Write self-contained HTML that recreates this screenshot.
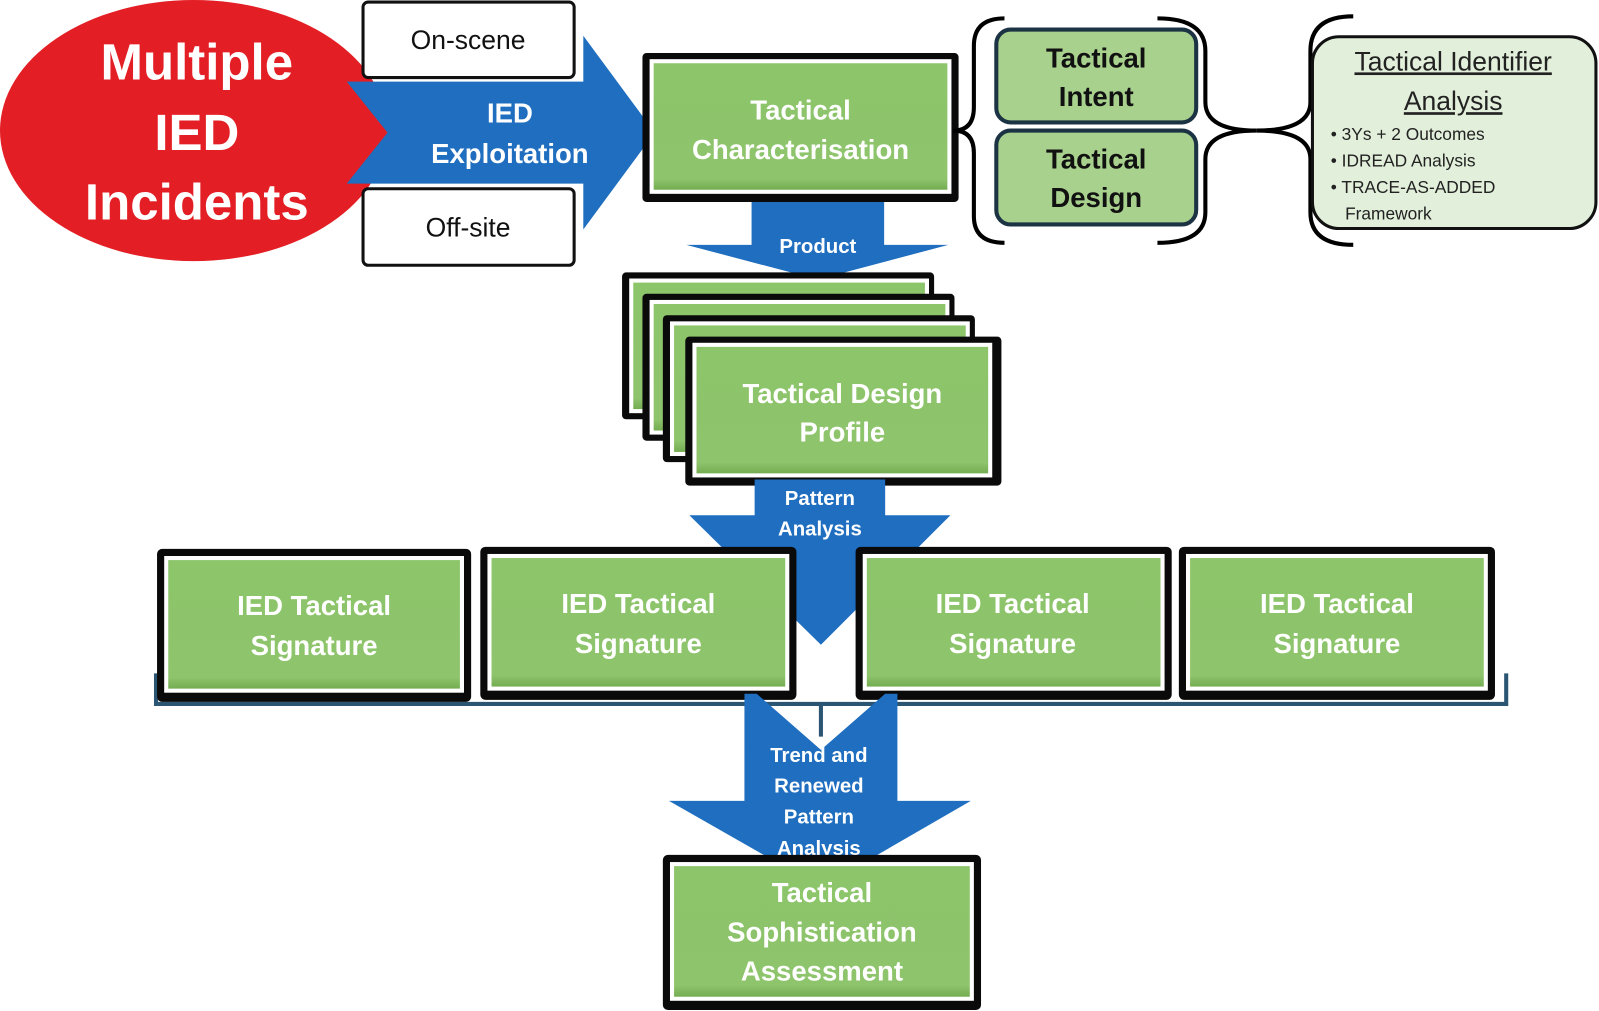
<!DOCTYPE html>
<html><head><meta charset="utf-8"><style>
html,body{margin:0;padding:0;background:#fff;}
svg{display:block;}
text{font-family:"Liberation Sans",sans-serif;font-weight:bold;}
</style></head><body>
<svg width="1599" height="1011" viewBox="0 0 1568 991" preserveAspectRatio="none" xmlns="http://www.w3.org/2000/svg">
<defs>
<linearGradient id="g" x1="0" y1="0" x2="0" y2="1">
<stop offset="0" stop-color="#8cc56a"/><stop offset="0.9" stop-color="#8ec46c"/><stop offset="1" stop-color="#6fa84c"/>
</linearGradient>
</defs>
<!-- red ellipse -->
<ellipse cx="190" cy="128" rx="190" ry="128" fill="#e31e24"/>
<g fill="#fff" font-size="50" text-anchor="middle">
<text x="193" y="78">Multiple</text>
<text x="193" y="147">IED</text>
<text x="193" y="215">Incidents</text>
</g>
<!-- On-scene / Off-site -->
<rect x="356" y="2" width="207" height="74" rx="5" fill="#fff" stroke="#111" stroke-width="3"/>
<rect x="356" y="185" width="207" height="75" rx="5" fill="#fff" stroke="#111" stroke-width="3"/>
<g font-size="26" text-anchor="middle" fill="#111" style="font-weight:normal">
<text x="459" y="48" style="font-weight:normal">On-scene</text>
<text x="459" y="232" style="font-weight:normal">Off-site</text>
</g>
<!-- exploitation arrow -->
<polygon points="340,80 572,80 572,35 642,130 572,225 572,180 340,180 380,130" fill="#1f6ebf"/>
<g fill="#fff" font-size="27" text-anchor="middle">
<text x="500" y="120">IED</text>
<text x="500" y="160">Exploitation</text>
</g>
<!-- product arrow -->
<polygon points="737,185 867,185 867,240 930,240 802,274 673,240 737,240" fill="#1f6ebf"/>
<text x="802" y="248" fill="#fff" font-size="20" text-anchor="middle">Product</text>
<!-- Tactical characterisation -->
<rect x="630" y="52" width="310" height="146" fill="#0a0a0a" rx="4"/>
<rect x="639" y="60" width="292" height="128" fill="url(#g)" stroke="#fff" stroke-width="4"/>
<g fill="#fff" font-size="27" text-anchor="middle">
<text x="785" y="117">Tactical</text>
<text x="785" y="156">Characterisation</text>
</g>
<!-- stacked boxes -->
<g>
<rect x="610" y="267" width="306" height="144" fill="#0a0a0a" rx="4"/>
<rect x="619" y="275" width="290" height="128" fill="url(#g)" stroke="#fff" stroke-width="4"/>
<rect x="630" y="288" width="306" height="144" fill="#0a0a0a" rx="4"/>
<rect x="639" y="296" width="290" height="128" fill="url(#g)" stroke="#fff" stroke-width="4"/>
<rect x="650" y="309" width="306" height="144" fill="#0a0a0a" rx="4"/>
<rect x="659" y="317" width="290" height="128" fill="url(#g)" stroke="#fff" stroke-width="4"/>
<rect x="672" y="330" width="310" height="146" fill="#0a0a0a" rx="4"/>
<rect x="681" y="338" width="290" height="128" fill="url(#g)" stroke="#fff" stroke-width="4"/>
</g>
<g fill="#fff" font-size="27" text-anchor="middle">
<text x="826" y="395">Tactical Design</text>
<text x="826" y="433">Profile</text>
</g>
<!-- pattern arrow -->
<polygon points="740,470 868,470 868,505 932,505 805,632 676,505 740,505" fill="#1f6ebf"/>
<g fill="#fff" font-size="20" text-anchor="middle">
<text x="804" y="495">Pattern</text>
<text x="804" y="525">Analysis</text>
</g>
<!-- bracket line -->
<path d="M153,660 L153,690 L1477,690 L1477,660 M805,690 L805,722" fill="none" stroke="#2a5573" stroke-width="4"/>
<!-- signature boxes -->
<g>
<rect x="154" y="538" width="308" height="150" fill="#0a0a0a" rx="5"/>
<rect x="163" y="547" width="290" height="130" fill="url(#g)" stroke="#fff" stroke-width="4"/>
<rect x="471" y="536" width="310" height="150" fill="#0a0a0a" rx="5"/>
<rect x="480" y="545" width="292" height="130" fill="url(#g)" stroke="#fff" stroke-width="4"/>
<rect x="839" y="536" width="310" height="150" fill="#0a0a0a" rx="5"/>
<rect x="848" y="545" width="292" height="130" fill="url(#g)" stroke="#fff" stroke-width="4"/>
<rect x="1156" y="536" width="310" height="150" fill="#0a0a0a" rx="5"/>
<rect x="1165" y="545" width="292" height="130" fill="url(#g)" stroke="#fff" stroke-width="4"/>
</g>
<g fill="#fff" font-size="27" text-anchor="middle">
<text x="308" y="603">IED Tactical</text><text x="308" y="642">Signature</text>
<text x="626" y="601">IED Tactical</text><text x="626" y="640">Signature</text>
<text x="993" y="601">IED Tactical</text><text x="993" y="640">Signature</text>
<text x="1311" y="601">IED Tactical</text><text x="1311" y="640">Signature</text>
</g>
<!-- trend arrow -->
<polygon points="730,680 742,680 805,735 868,680 880,680 880,785 952,785 805,870 656,785 730,785" fill="#1f6ebf"/>
<g fill="#fff" font-size="20" text-anchor="middle">
<text x="803" y="747">Trend and</text>
<text x="803" y="777">Renewed</text>
<text x="803" y="807">Pattern</text>
<text x="803" y="838">Analysis</text>
</g>
<!-- sophistication -->
<rect x="650" y="838" width="312" height="152" fill="#0a0a0a" rx="5"/>
<rect x="659" y="847" width="294" height="132" fill="url(#g)" stroke="#fff" stroke-width="4"/>
<g fill="#fff" font-size="27" text-anchor="middle">
<text x="806" y="884">Tactical</text>
<text x="806" y="923">Sophistication</text>
<text x="806" y="961">Assessment</text>
</g>
<!-- braces -->
<path d="M985,18 Q955,18 955,45 L955,105 Q955,128 935,128 Q955,128 955,150 L955,212 Q955,238 985,238" fill="none" stroke="#000" stroke-width="4"/>
<path d="M1135,18 Q1182,18 1182,50 L1182,100 Q1182,128 1232,128 Q1182,128 1182,156 L1182,208 Q1182,238 1135,238" fill="none" stroke="#000" stroke-width="4"/>
<path d="M1327,16 Q1285,16 1285,50 L1285,100 Q1285,128 1232,128 Q1285,128 1285,156 L1285,208 Q1285,240 1327,240" fill="none" stroke="#000" stroke-width="4"/>
<!-- intent / design -->
<rect x="977" y="29" width="196" height="91" rx="14" fill="#a9d18e" stroke="#1c3344" stroke-width="4"/>
<rect x="977" y="128" width="196" height="92" rx="14" fill="#a9d18e" stroke="#1c3344" stroke-width="4"/>
<g fill="#111" font-size="27" text-anchor="middle">
<text x="1075" y="66">Tactical</text><text x="1075" y="104">Intent</text>
<text x="1075" y="165">Tactical</text><text x="1075" y="203">Design</text>
</g>
<!-- TIA box -->
<rect x="1287" y="36" width="278" height="188" rx="26" fill="#e2efda" stroke="#111" stroke-width="3"/>
<g fill="#222" font-size="26" text-anchor="middle" text-decoration="underline">
<text x="1425" y="69" style="font-weight:normal">Tactical Identifier</text>
<text x="1425" y="108" style="font-weight:normal">Analysis</text>
</g>
<g fill="#222" font-size="17">
<text x="1305" y="137" style="font-weight:normal">• 3Ys + 2 Outcomes</text>
<text x="1305" y="163" style="font-weight:normal">• IDREAD Analysis</text>
<text x="1305" y="189" style="font-weight:normal">• TRACE-AS-ADDED</text>
<text x="1319" y="215" style="font-weight:normal">Framework</text>
</g>
</svg>
</body></html>
